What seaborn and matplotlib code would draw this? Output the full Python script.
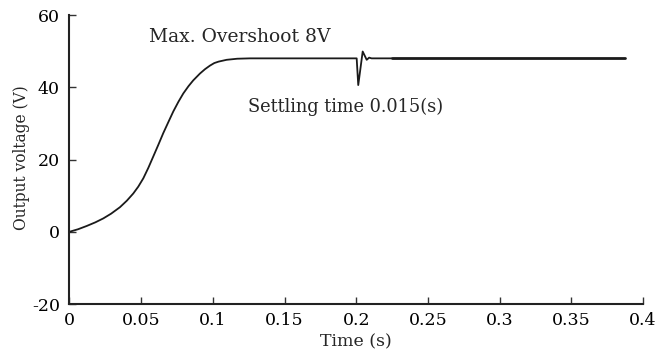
import matplotlib
matplotlib.use("Agg")
import matplotlib.pyplot as plt
import seaborn as sns
import pandas as pd

# Start-up transient: output voltage rising to the regulated level
rise_t = [0.0, 0.006, 0.012, 0.018, 0.0236, 0.029, 0.0352, 0.040, 0.0445, 0.048,
          0.0515, 0.055, 0.0584, 0.062, 0.0654, 0.069, 0.0724, 0.076, 0.0794,
          0.083, 0.0863, 0.091, 0.0945, 0.098, 0.101, 0.104, 0.1096, 0.117,
          0.1259, 0.150, 0.2003]
rise_v = [0.0, 0.7, 1.6, 2.6, 3.7, 5.0, 6.8, 8.6, 10.6, 12.5,
          14.8, 17.7, 20.8, 24.1, 27.3, 30.4, 33.3, 36.0, 38.3,
          40.3, 41.9, 43.8, 45.0, 46.0, 46.7, 47.1, 47.6, 47.9,
          48.0, 48.0, 48.0]

# Load-step disturbance at t = 0.2 s and recovery
step_t = [0.2003, 0.2014, 0.2045, 0.2073, 0.2090, 0.2107, 0.2180, 0.2247]
step_v = [48.0, 40.6, 49.9, 47.6, 48.2, 48.0, 48.0, 48.0]

# Steady-state segment
steady_t = [0.2247, 0.3000, 0.3874]
steady_v = [48.0, 48.0, 48.0]

x_ticks = [0, 0.05, 0.1, 0.15, 0.2, 0.25, 0.3, 0.35, 0.4]
x_tick_labels = ["0", "0.05", "0.1", "0.15", "0.2", "0.25", "0.3", "0.35", "0.4"]
y_ticks = [-20, 0, 20, 40, 60]
y_tick_labels = ["-20", "0", "20", "40", "60"]

sns.set_theme(style="ticks")
plt.rcParams["font.family"] = ["DejaVu Serif", "Liberation Serif"]
plt.rcParams["xtick.direction"] = "in"
plt.rcParams["ytick.direction"] = "in"

fig = plt.figure(figsize=(6.58, 3.54), dpi=100)
ax = fig.add_axes([0.1056, 0.1412, 0.8716, 0.8164])

df_a = pd.DataFrame({"t": rise_t + step_t[1:], "v": rise_v + step_v[1:]})
df_b = pd.DataFrame({"t": steady_t, "v": steady_v})
sns.lineplot(data=df_a, x="t", y="v", ax=ax, color="#1a1a1a", linewidth=1.3,
             sort=False, estimator=None)
sns.lineplot(data=df_b, x="t", y="v", ax=ax, color="#1a1a1a", linewidth=2.0,
             sort=False, estimator=None)

ax.set_xlim(0, 0.4)
ax.set_ylim(-20, 60)
ax.set_xticks(x_ticks)
ax.set_xticklabels(x_tick_labels)
ax.set_yticks(y_ticks)
ax.set_yticklabels(y_tick_labels)
ax.tick_params(axis="both", labelsize=12.5, length=5, width=1.0, color="#333333",
               labelcolor="black")
ax.tick_params(axis="x", pad=6)
ax.tick_params(axis="y", pad=7)
for side in ("top", "right"):
    ax.spines[side].set_visible(False)
for side in ("left", "bottom"):
    ax.spines[side].set_linewidth(1.5)
    ax.spines[side].set_color("#222222")

ax.set_xlabel("Time (s)", fontsize=12.5, labelpad=3)
ax.set_ylabel("Output voltage (V)", fontsize=11.2)
ax.yaxis.set_label_coords(-0.069, 0.505)

ax.text(0.0556, 52.6, "Max. Overshoot 8V", fontsize=13.5, va="baseline", ha="left")
ax.text(0.1247, 33.2, "Settling time 0.015(s)", fontsize=12.8, va="baseline", ha="left")

fig.savefig("out.png", dpi=100)
